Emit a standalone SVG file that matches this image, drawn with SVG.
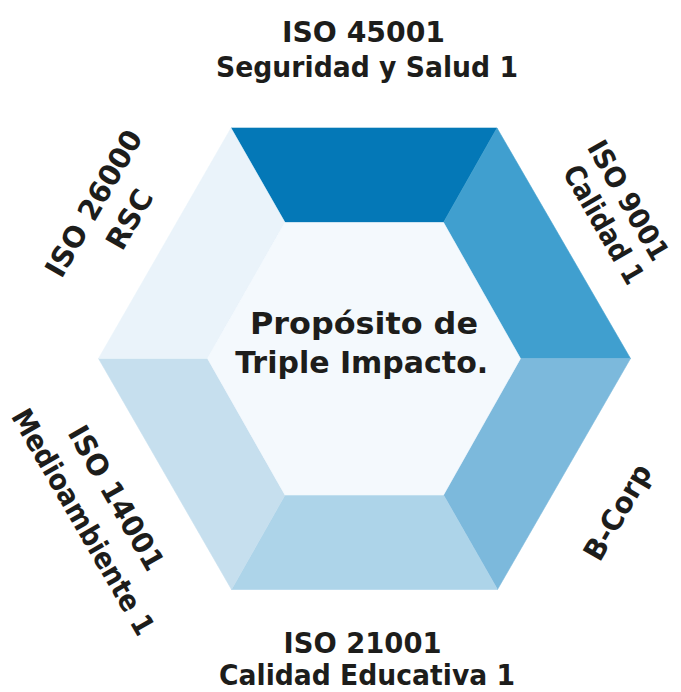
<svg xmlns="http://www.w3.org/2000/svg" width="681" height="692" viewBox="0 0 681 692">
<style>
.lbl{font-family:"DejaVu Sans","Liberation Sans",sans-serif;font-weight:bold;font-size:29px;fill:#1d1d1b;text-anchor:middle}
.ctr{font-size:30px}
.sm{font-size:28px}
.seg{stroke-width:0.6;stroke-linejoin:round}
</style>
<rect width="681" height="692" fill="#ffffff"/>
<g id="seg-top">
<polygon class="seg" points="231,128 497,128 443.5,222.5 285,222.5" fill="#0478b7" stroke="#0478b7"/>
<text class="lbl" x="363.5" y="42" textLength="163" lengthAdjust="spacingAndGlyphs">ISO 45001</text>
<text class="lbl" x="367" y="77" textLength="302" lengthAdjust="spacingAndGlyphs">Seguridad y Salud 1</text>
</g>
<g id="seg-top-right">
<polygon class="seg" points="497,128 630.5,358.5 520.5,358.5 443.5,222.5" fill="#409fcf" stroke="#409fcf"/>
<text class="lbl sm" transform="translate(629,200) rotate(60)" x="0" y="10.5" textLength="134" lengthAdjust="spacingAndGlyphs">ISO 9001</text>
<text class="lbl" transform="translate(604.5,224) rotate(60)" x="0" y="11" textLength="132" lengthAdjust="spacingAndGlyphs">Calidad 1</text>
</g>
<g id="seg-bottom-right">
<polygon class="seg" points="630.5,358.5 497.5,589.5 443.5,495 520.5,358.5" fill="#7cb9dc" stroke="#7cb9dc"/>
<text class="lbl" transform="translate(616.7,511.7) rotate(-60)" x="0" y="11" textLength="106" lengthAdjust="spacingAndGlyphs">B-Corp</text>
</g>
<g id="seg-bottom">
<polygon class="seg" points="497.5,589.5 231.5,589.5 285,495 443.5,495" fill="#add4e9" stroke="#add4e9"/>
<text class="lbl" x="362.5" y="653" textLength="158" lengthAdjust="spacingAndGlyphs">ISO 21001</text>
<text class="lbl" x="367" y="685" textLength="296" lengthAdjust="spacingAndGlyphs">Calidad Educativa 1</text>
</g>
<g id="seg-bottom-left">
<polygon class="seg" points="231.5,589.5 98.5,358.5 207.5,358.5 285,495" fill="#c6dfee" stroke="#c6dfee"/>
<text class="lbl" transform="translate(117,497.5) rotate(60)" x="0" y="11" textLength="162" lengthAdjust="spacingAndGlyphs">ISO 14001</text>
<text class="lbl" transform="translate(84,521.5) rotate(60)" x="0" y="11" textLength="256" lengthAdjust="spacingAndGlyphs">Medioambiente 1</text>
</g>
<g id="seg-top-left">
<polygon class="seg" points="98.5,358.5 231,128 285,222.5 207.5,358.5" fill="#eaf3fa" stroke="#eaf3fa"/>
<text class="lbl" transform="translate(92.9,202.9) rotate(-60)" x="0" y="11" textLength="164" lengthAdjust="spacingAndGlyphs">ISO 26000</text>
<text class="lbl" transform="translate(128.7,218.9) rotate(-60)" x="0" y="11" textLength="64" lengthAdjust="spacingAndGlyphs">RSC</text>
</g>
<g id="center">
<polygon class="seg" points="285,222.5 443.5,222.5 520.5,358.5 443.5,495 285,495 207.5,358.5" fill="#f4f9fd" stroke="#f4f9fd"/>
<text class="lbl ctr" x="364" y="334" textLength="228" lengthAdjust="spacingAndGlyphs">Propósito de</text>
<text class="lbl ctr" x="361.7" y="373" textLength="253" lengthAdjust="spacingAndGlyphs">Triple Impacto.</text>
</g>
</svg>
